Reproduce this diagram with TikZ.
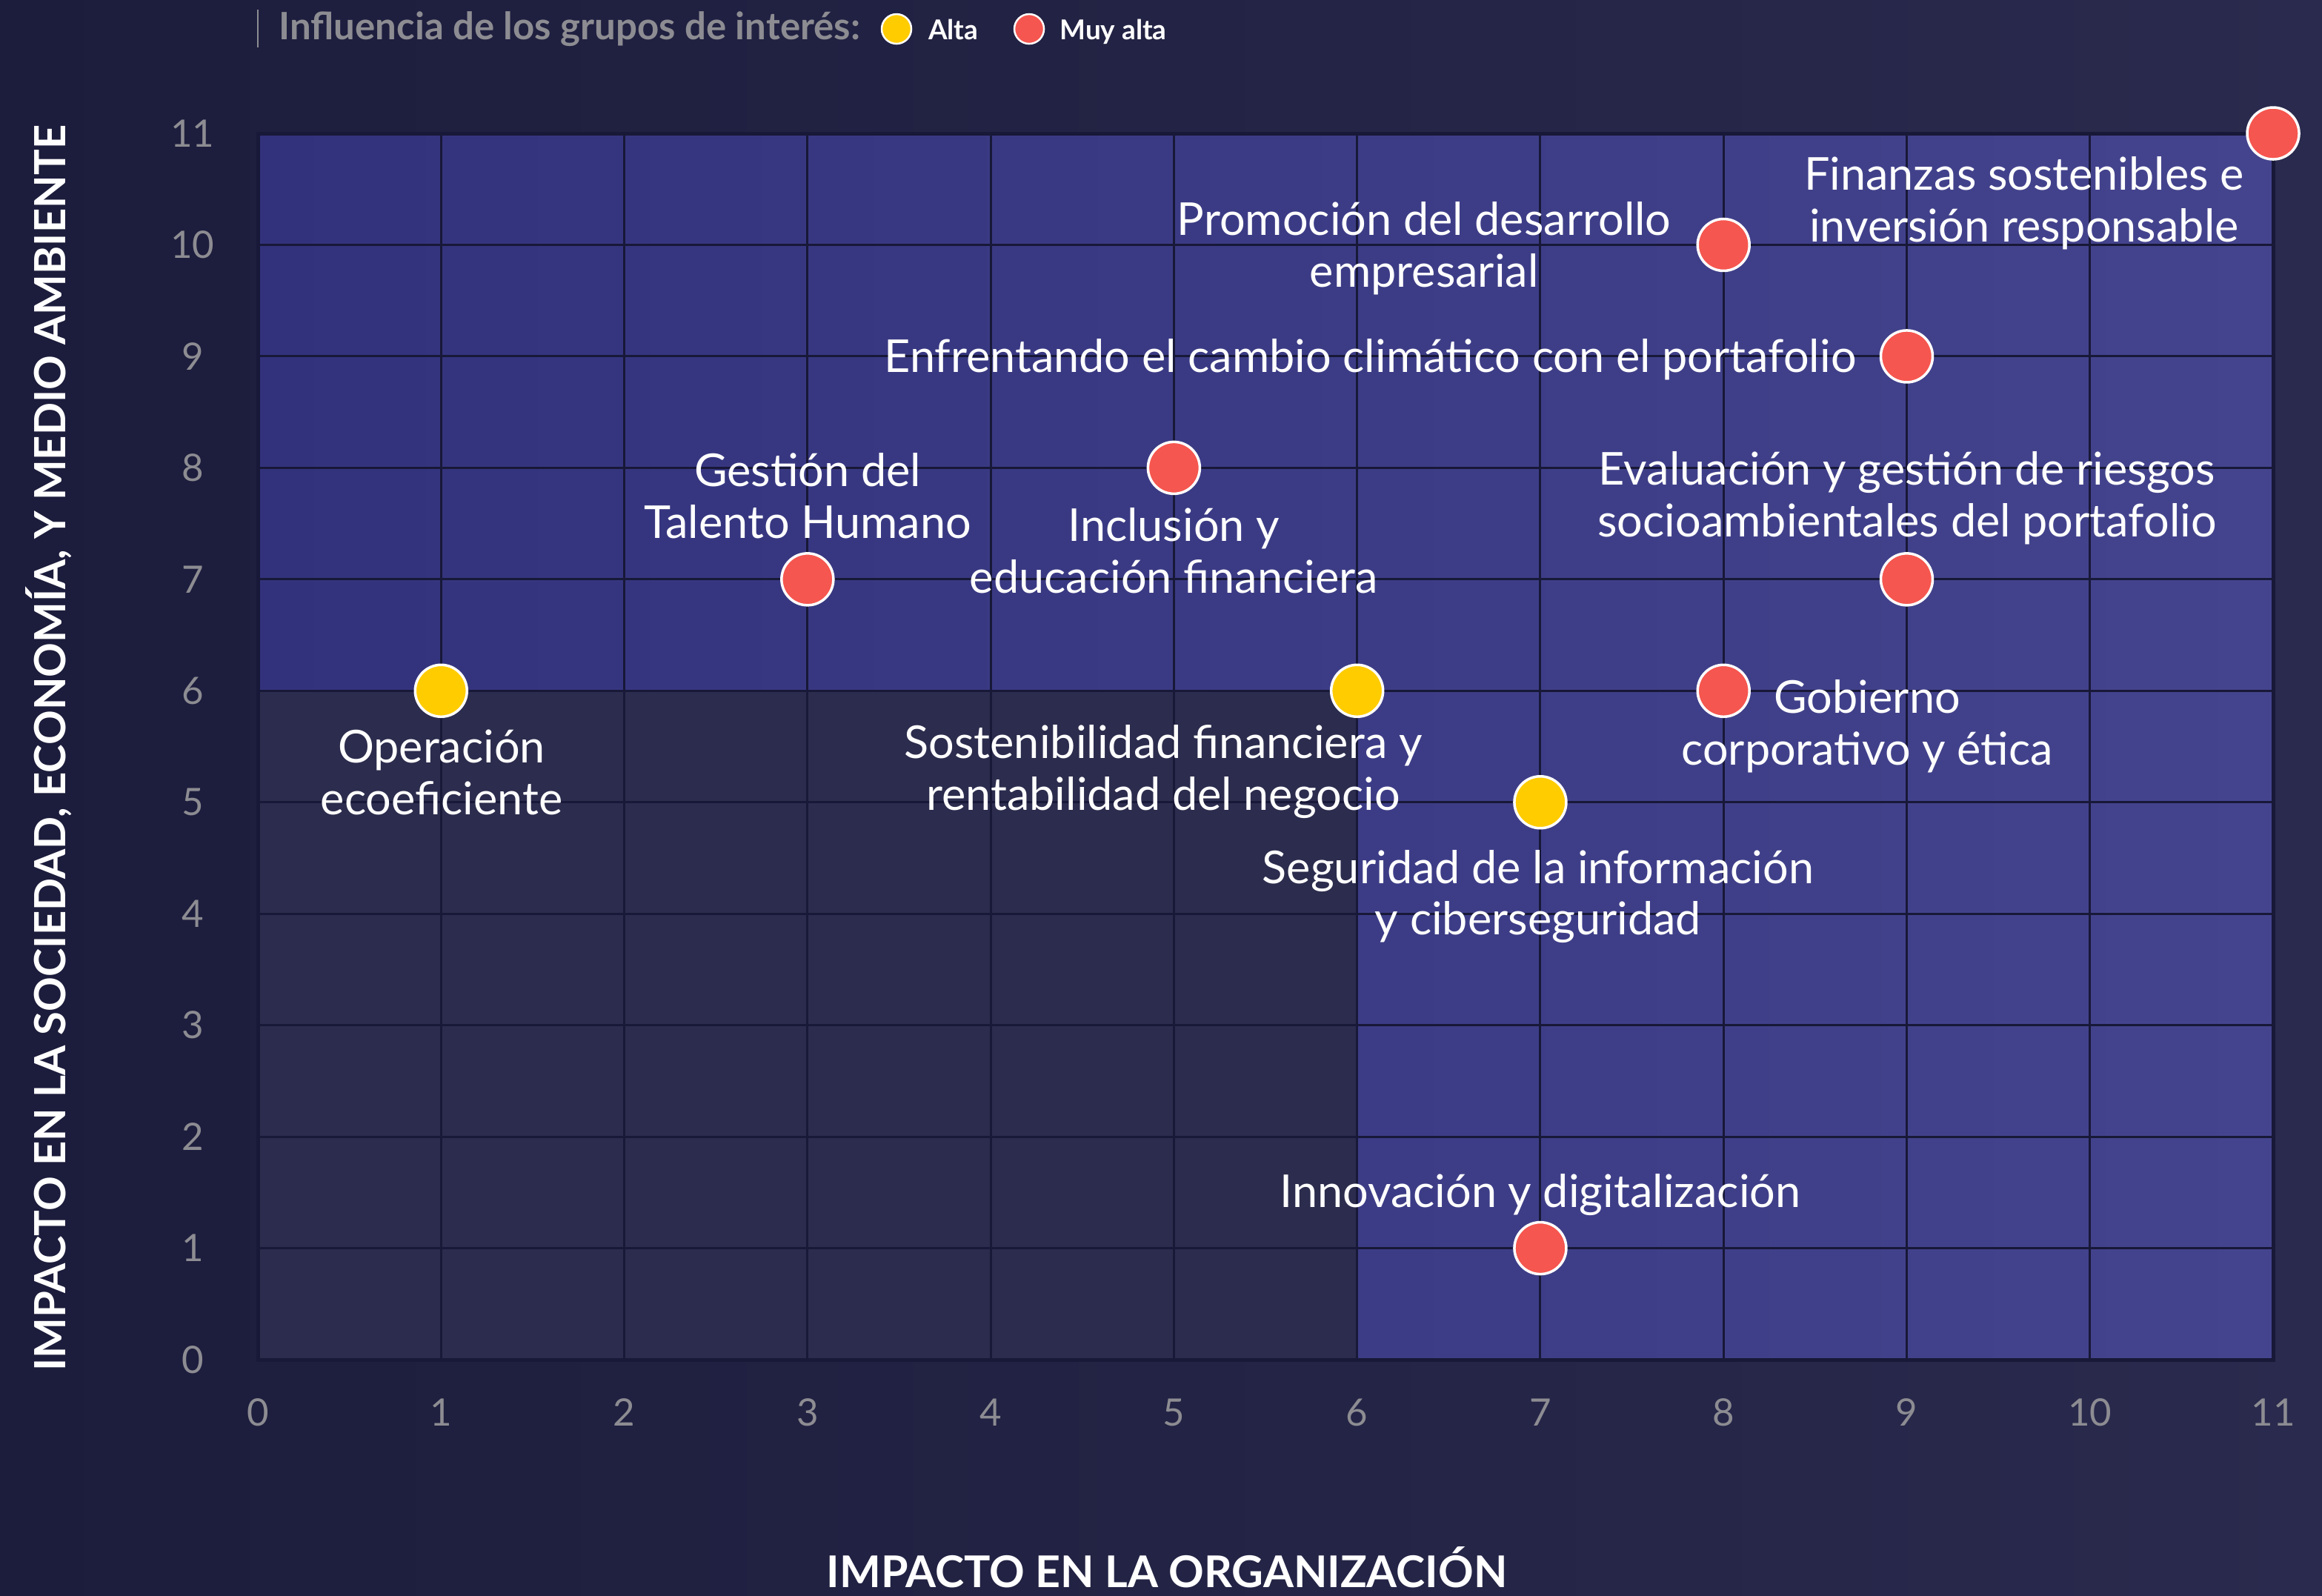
\documentclass[tikz,border=0pt]{standalone}
\usepackage{fontspec}
\setmainfont{Lato}
\definecolor{bgA}{RGB}{28,28,60}
\definecolor{bgB}{RGB}{42,42,78}
\definecolor{quadC}{RGB}{44,44,78}
\definecolor{blueL}{RGB}{50,50,124}
\definecolor{blueR}{RGB}{68,68,142}
\definecolor{gridC}{RGB}{24,24,56}
\definecolor{tickC}{RGB}{140,140,146}
\definecolor{yel}{RGB}{255,204,0}
\definecolor{redd}{RGB}{245,86,79}
\tikzset{
  dot/.style={circle, minimum size=7mm, inner sep=0pt, draw=white, line width=0.35mm},
  ydot/.style={dot, fill=yel},
  rdot/.style={dot, fill=redd},
  lab/.style={text=white, align=center, inner sep=0pt, yshift=-0.5mm, font=\fontsize{17.4}{19.9}\selectfont},
  tick/.style={text=tickC, inner sep=0pt, font=\fontsize{14.5}{17}\selectfont},
  gridline/.style={draw=gridC, line width=0.3mm},
  legdot/.style={circle, minimum size=4mm, inner sep=0pt, draw=white, line width=0.25mm}
}
\begin{document}
\begin{tikzpicture}[x=24.727mm, y=15.045mm]
\useasboundingbox (-1.4074,-2.1137) rectangle (11.2668,12.1967);
\fill[left color=bgA, right color=bgB] (-1.4074,-2.1137) rectangle (11.2668,12.1967);
% regions
\fill[left color=blueL, right color=blueR] (0,6) -- (0,11) -- (11,11) -- (11,0) -- (6,0) -- (6,6) -- cycle;
\fill[quadC] (0,0) rectangle (6,6);
\foreach \i in {1,...,10}{
  \draw[gridline] (\i,0) -- (\i,11);
  \draw[gridline] (0,\i) -- (11,\i);
}
\draw[draw=gridC, line width=0.5mm] (0,0) rectangle (11,11);
% ticks
\foreach \i in {0,...,11}{
  \node[tick] (xt\i) at (\i,-0.472) {\i};
  \node[tick] (yt\i) at (-0.356,\i) {\i};
}
% axis titles
\node[text=white, inner sep=0pt, anchor=base, font=\bfseries\fontsize{16.8}{20}\selectfont] (xtitle) at (4.962,-2.041) {IMPACTO EN LA ORGANIZACIÓN};
\node[text=white, inner sep=0pt, rotate=90, font=\bfseries\fontsize{16.5}{20}\selectfont] (ytitle) at (-1.140,5.484) {IMPACTO EN LA SOCIEDAD, ECONOMÍA, Y MEDIO AMBIENTE};
% legend
\coordinate (lb1) at (0,12.11);
\coordinate (lb2) at (0,11.77);
\draw[tickC, line width=0.2mm] (lb1) -- (lb2);
\node[text=tickC, inner sep=0pt, anchor=base west, font=\bfseries\fontsize{14.5}{17}\selectfont] (legt) at (0.113,11.844) {Influencia de los grupos de interés:};
\node[legdot, fill=yel] (ly) at (3.486,11.937) {};
\node[text=white, inner sep=0pt, anchor=base west, font=\bfseries\fontsize{10.5}{13}\selectfont] (lyt) at (3.657,11.844) {Alta};
\node[legdot, fill=redd] (lr) at (4.21,11.937) {};
\node[text=white, inner sep=0pt, anchor=base west, font=\bfseries\fontsize{10.5}{13}\selectfont] (lrt) at (4.375,11.844) {Muy alta};
% points
\node[ydot] (p1) at (1,6) {};
\node[rdot] (p2) at (3,7) {};
\node[rdot] (p3) at (5,8) {};
\node[ydot] (p4) at (6,6) {};
\node[ydot] (p5) at (7,5) {};
\node[rdot] (p6) at (7,1) {};
\node[rdot] (p7) at (8,6) {};
\node[rdot] (p8) at (9,7) {};
\node[rdot] (p9) at (9,9) {};
\node[rdot] (p10) at (8,10) {};
\node[rdot] (p11) at (11,11) {};
% labels
\node[lab] (l1) at (1.003,5.304) {Operación\\ecoeficiente};
\node[lab] (l2) at (3.001,7.783) {Gestión del\\Talento Humano};
\node[lab] (l3) at (4.999,7.291) {Inclusión y\\educación financiera};
\node[lab] (l4) at (4.942,5.304) {Sostenibilidad financiera y\\rentabilidad del negocio};
\node[lab] (l5) at (6.988,4.187) {Seguridad de la información\\y ciberseguridad};
\node[lab] (l6) at (7.0,1.509) {Innovación y digitalización};
\node[lab] (l7) at (8.784,5.716) {Gobierno\\corporativo y ética};
\node[lab] (l8) at (9.002,7.763) {Evaluación y gestión de riesgos\\socioambientales del portafolio};
\node[lab, anchor=east] (l9) at (8.727,9.006) {Enfrentando el cambio climático con el portafolio};
\node[lab] (l10) at (6.366,10.003) {Promoción del desarrollo\\empresarial};
\node[lab] (l11) at (9.641,10.409) {Finanzas sostenibles e\\inversión responsable};
\end{tikzpicture}
\end{document}
